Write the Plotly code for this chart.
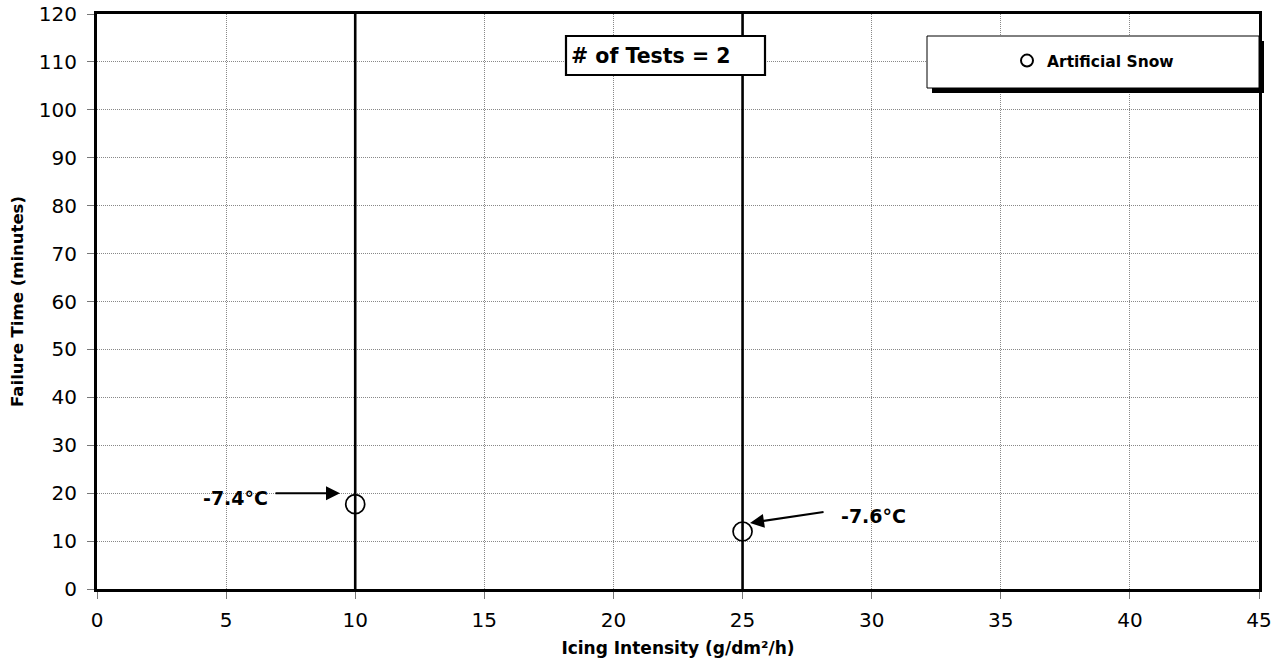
import plotly.graph_objects as go

# Test results
icing_intensity = [10, 25]          # g/dm²/h
failure_time = [17.7, 12]           # minutes
temperatures = ["-7.4°C", "-7.6°C"]
series_name = "Artificial Snow"
test_count = 2

# Reference intensities marked with vertical lines
reference_intensities = [10, 25]

x_ticks = list(range(0, 46, 5))
y_ticks = list(range(0, 121, 10))

FONT = "DejaVu Sans, Verdana, sans-serif"

# plot-area geometry in pixels (used for paper-coordinate helpers)
W, H = 1285, 669
ML, MR, MT, MB = 97, 26, 14, 80
PW, PH = W - ML - MR, H - MT - MB


def px_x(p):
    return (p - ML) / PW


def px_y(p):
    return (H - MB - p) / PH


fig = go.Figure()

fig.add_trace(go.Scatter(
    x=icing_intensity, y=failure_time, mode="markers", name="<b>" + series_name + "</b>",
    marker=dict(symbol="circle-open", size=19, color="black", line=dict(width=1.7, color="black")),
    showlegend=True,
))

# vertical reference lines
for xv in reference_intensities:
    fig.add_shape(type="line", xref="x", yref="y", x0=xv, x1=xv, y0=0, y1=120,
                  line=dict(color="black", width=2.6), layer="above")

# temperature callouts with arrows
fig.add_annotation(x=9.41, y=20.0, ax=-66, ay=0, axref="pixel", ayref="pixel",
                   text="", showarrow=True, arrowhead=2, arrowsize=1.4, arrowwidth=2, arrowcolor="black")
fig.add_annotation(x=5.38, y=19.0, xref="x", yref="y", text="<b>" + temperatures[0] + "</b>",
                   showarrow=False, font=dict(family=FONT, size=19, color="black"))
fig.add_annotation(x=25.29, y=13.8, ax=75, ay=-11, axref="pixel", ayref="pixel",
                   text="", showarrow=True, arrowhead=2, arrowsize=1.4, arrowwidth=2, arrowcolor="black")
fig.add_annotation(x=30.09, y=15.2, xref="x", yref="y", text="<b>" + temperatures[1] + "</b>",
                   showarrow=False, font=dict(family=FONT, size=19, color="black"))

# test count box
fig.add_shape(type="rect", xref="paper", yref="paper", x0=px_x(566), x1=px_x(765),
              y0=px_y(75), y1=px_y(36), fillcolor="white", line=dict(color="black", width=2.2),
              layer="above")
fig.add_annotation(x=px_x(569), y=px_y(56), xref="paper", yref="paper", xanchor="left", yanchor="middle",
                   text="<b># of Tests = %d</b>" % test_count, showarrow=False,
                   font=dict(family=FONT, size=20.5, color="black"))

# legend frame with drop shadow
lx0, lx1, ly_top, ly_bot = 927, 1259, 36, 88
fig.add_shape(type="rect", xref="paper", yref="paper", x0=px_x(lx0 + 5), x1=px_x(lx1 + 5),
              y0=px_y(ly_bot + 5), y1=px_y(ly_top + 5), fillcolor="black", line=dict(width=0),
              layer="above")
fig.add_shape(type="rect", xref="paper", yref="paper", x0=px_x(lx0), x1=px_x(lx1),
              y0=px_y(ly_bot), y1=px_y(ly_top),
              fillcolor="white", line=dict(color="black", width=1), layer="above")

axis_common = dict(
    showgrid=True, gridcolor="#888888", griddash="1px,1px", gridwidth=1,
    showline=True, linecolor="black", linewidth=3, mirror=True,
    ticks="outside", ticklen=7, tickcolor="#777777", tickwidth=1,
    zeroline=False, automargin=False,
    tickfont=dict(family=FONT, size=20, color="black"),
)

fig.update_layout(
    width=W, height=H,
    margin=dict(l=ML, r=MR, t=MT, b=MB),
    paper_bgcolor="white", plot_bgcolor="white",
    font=dict(family=FONT, size=16, color="black"),
    showlegend=True,
    legend=dict(x=px_x(1007), y=px_y(61), xanchor="left", yanchor="middle",
                bgcolor="rgba(0,0,0,0)", borderwidth=0, itemsizing="constant",
                font=dict(family=FONT, size=15.5, color="black")),
    xaxis=dict(range=[0, 45], tickvals=x_ticks, ticktext=[str(v) for v in x_ticks],
               ticklabelstandoff=4,
               title=dict(text="<b>Icing Intensity (g/dm²/h)</b>",
                          font=dict(family=FONT, size=17), standoff=12),
               **axis_common),
    yaxis=dict(range=[0, 120], tickvals=y_ticks, ticktext=[str(v) for v in y_ticks],
               ticklabelstandoff=6,
               title=dict(text="<b>Failure Time (minutes)</b>",
                          font=dict(family=FONT, size=16.5), standoff=12),
               **axis_common),
)

fig.write_html("out.html")
